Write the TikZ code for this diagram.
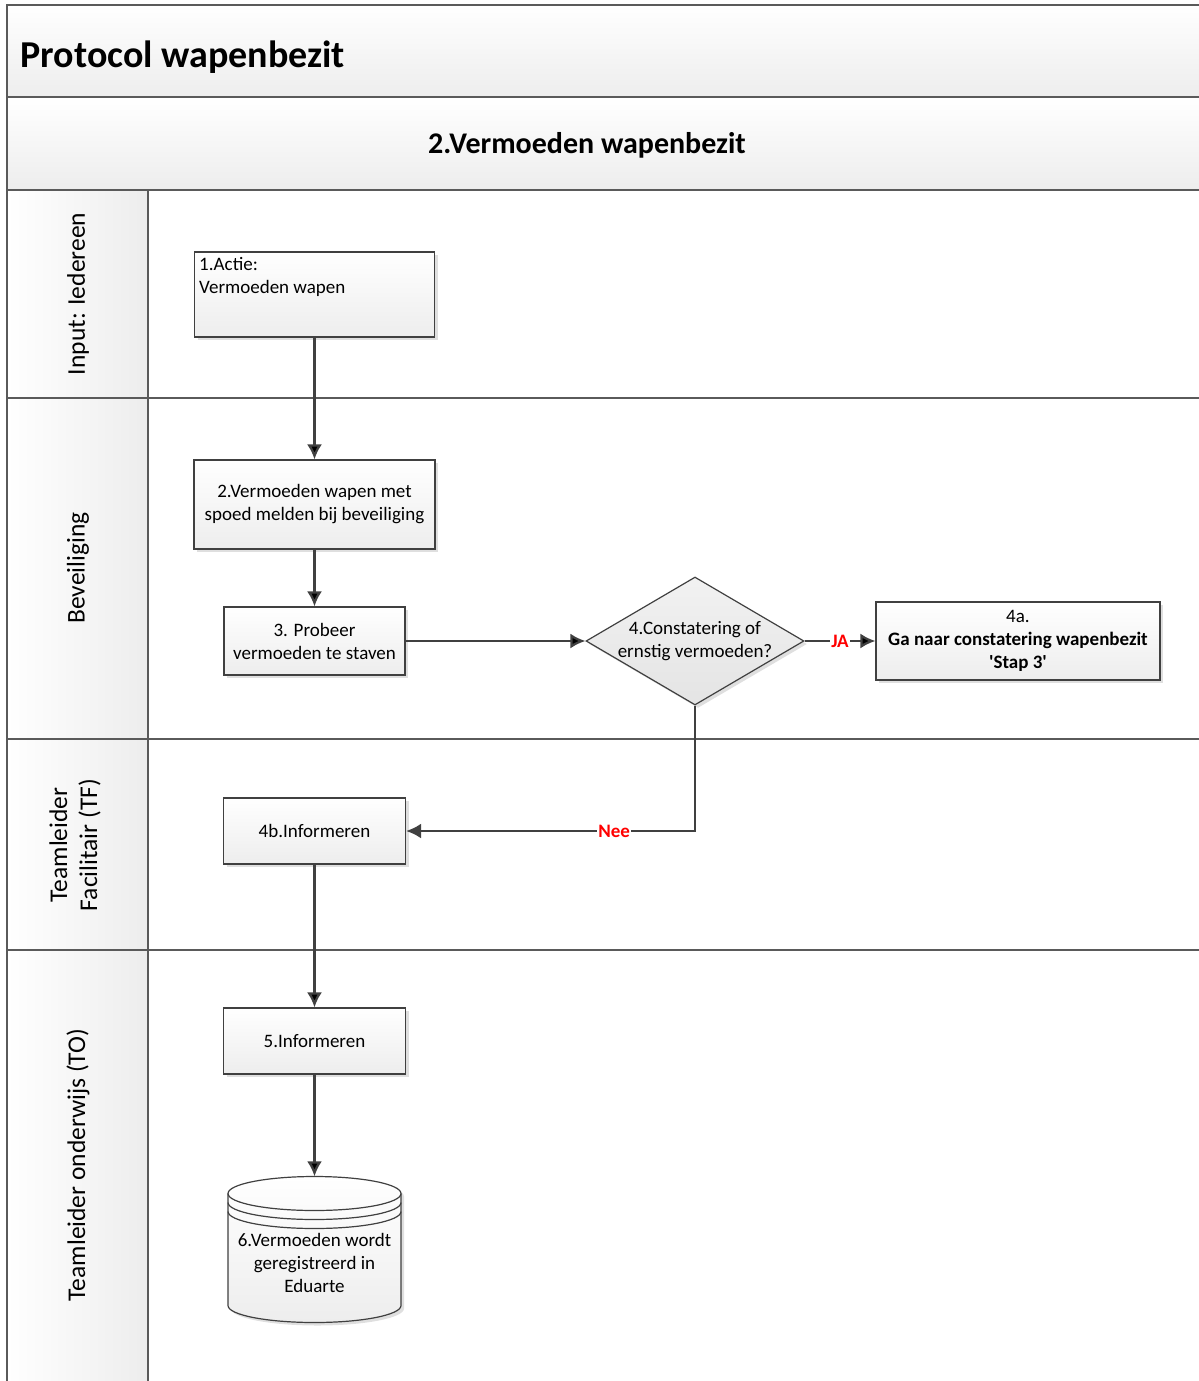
\documentclass[tikz,border=0pt]{standalone}
\usepackage{fontspec}
\setmainfont{Carlito}
\usepackage{tikz}
\usetikzlibrary{arrows.meta,shapes.geometric,shadows}

\definecolor{linegray}{HTML}{404040}
\definecolor{framegray}{HTML}{5A5A5A}
\definecolor{boxgray}{HTML}{EDEDED}
\definecolor{ruitgray}{HTML}{E4E4E4}
\definecolor{jared}{HTML}{FF0000}

\begin{document}
\begin{tikzpicture}[x=1pt,y=-1pt,font=\fontsize{19}{23}\selectfont]

    \tikzstyle{actie}=[draw=linegray, line width=1.2pt, top color=white, bottom color=boxgray,
      drop shadow={shadow xshift=3pt, shadow yshift=-3pt, fill=black!25, opacity=0.5},
      align=center, inner sep=0pt]
    \tikzstyle{besluit}=[actie, diamond, top color=ruitgray!50, bottom color=ruitgray,
      drop shadow={opacity=0}, minimum width=218pt, minimum height=128pt]
    \tikzstyle{pijl}=[-{Latex[length=15pt,width=15pt]}, draw=linegray, line width=2.3pt]
    \tikzstyle{keuze}=[fill=white, text=jared, font=\bfseries\fontsize{19}{23}\selectfont, inner sep=1pt]
    \tikzstyle{baan}=[rotate=90, align=center, font=\fontsize{25.5}{30}\selectfont]

    \useasboundingbox (0,0) rectangle (1199,1381);

    % kader en banen
    \begin{scope}[draw=framegray, line width=1.8pt]
      \path[draw, top color=white, bottom color=boxgray] (7,5) rectangle (1204,97);
      \path[draw, top color=white, bottom color=boxgray] (7,97) rectangle (1204,190);
      \foreach \boven/\onder in {190/398,398/739,739/950,950/1395}
        {
        \path[draw, left color=white, right color=boxgray] (7,\boven) rectangle (148,\onder);
        \draw (148,\boven) -- (1204,\boven);
        }
    \end{scope}

    \node[anchor=base west, font=\bfseries\fontsize{38}{44}\selectfont] (titel) at (17,67) {Protocol wapenbezit};
    \node[anchor=base, font=\bfseries\fontsize{30}{36}\selectfont] (subtitel) at (587,153) {2.Vermoeden wapenbezit};

    \node[baan] (input) at (78,294) {Input: Iedereen};
    \node[baan] (bev) at (78,568) {Beveiliging};
    \node[baan] (tf) at (75,845) {Teamleider\\Facilitair (TF)};
    \node[baan] (to) at (78,1165) {Teamleider onderwijs (TO)};

    % stappen
    \node[actie, minimum width=240pt, minimum height=85pt] (1) at (314.5,294.5) {};
    \node[anchor=north west, align=left, inner sep=0pt] (1t) at (199,257) {1.Actie:\\Vermoeden wapen};
    \node[actie, minimum width=241pt, minimum height=89pt] (2) at (314.5,504.5)
      {2.Vermoeden wapen met\\spoed melden bij beveiliging};
    \node[actie, minimum width=181pt, minimum height=68pt] (3) at (314.5,641)
      {3. Probeer\\vermoeden te staven};
    \node[besluit, label={[align=center]center:4.Constatering of\\ernstig vermoeden?}] (4) at (695,641) {};
    \node[actie, minimum width=284pt, minimum height=78pt] (4a) at (1018,641)
      {4a.\\\textbf{Ga naar constatering wapenbezit}\\\textbf{\textquotesingle Stap 3\textquotesingle}};
    \node[actie, minimum width=182pt, minimum height=66pt] (4b) at (314.5,831) {4b.Informeren};
    \node[actie, minimum width=182pt, minimum height=66pt] (5) at (314.5,1041) {5.Informeren};

    % database
    \coordinate (db) at (314.5,1249.5);
    \path[draw=linegray, line width=1.2pt, top color=white, bottom color=boxgray,
      drop shadow={shadow xshift=3pt, shadow yshift=-3pt, fill=black!25, opacity=0.5}]
      ([xshift=-86.5pt,yshift=56pt]db) -- ([xshift=-86.5pt,yshift=-56pt]db)
      arc[start angle=180, end angle=360, x radius=86.5pt, y radius=17pt]
      -- ([xshift=86.5pt,yshift=56pt]db)
      arc[start angle=0, end angle=180, x radius=86.5pt, y radius=17pt] -- cycle;
    \foreach \zak in {0,9,18}
      \draw[draw=linegray, line width=1.2pt] ([xshift=-86.5pt,yshift=56pt-\zak pt]db)
        arc[start angle=180, end angle=360, x radius=86.5pt, y radius=17pt];
    \node[align=center, inner sep=0pt, minimum width=173pt, minimum height=173pt] (6) at (314.5,1263)
      {6.Vermoeden wordt\\geregistreerd in\\Eduarte};

    \path[pijl] (1) edge (2)
                (2) edge (3)
                (3) edge (4)
                (4) edge node[keuze] {JA} (4a)
                (4b) edge (5)
                (5) edge (6)
    ;
    \draw[pijl] (4.south) |- node[keuze, pos=0.64] {Nee} (4b.east);
\end{tikzpicture}
\end{document}
